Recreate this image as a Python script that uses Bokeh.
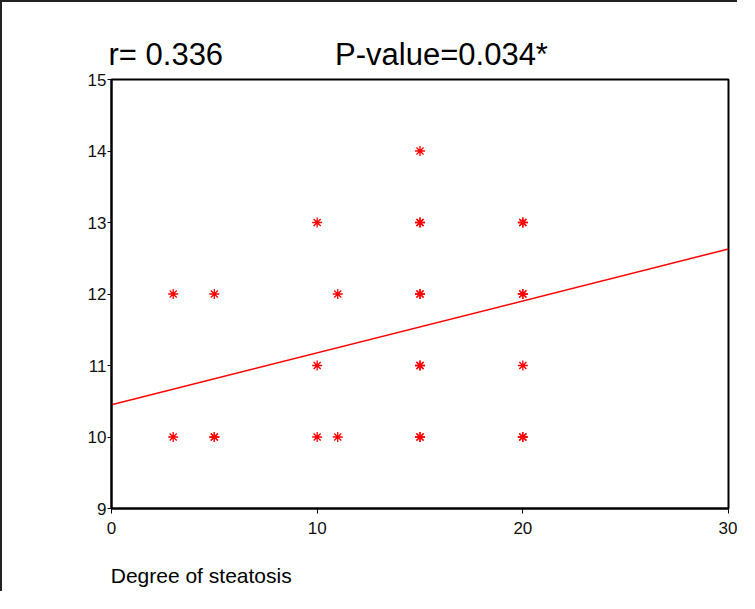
from bokeh.plotting import figure
from bokeh.models import FixedTicker, Range1d, Title
from bokeh.embed import file_html
from bokeh.resources import INLINE

# Data (duplicated points appear bolder)
steatosis = [3, 3, 5, 5, 5, 10, 10, 10, 11, 11,
             15, 15, 15, 15, 15, 15, 15, 15, 15,
             20, 20, 20, 20, 20, 20, 20]
values = [12, 10, 12, 10, 10, 13, 11, 10, 12, 10,
          14, 13, 13, 12, 12, 11, 11, 10, 10,
          13, 13, 12, 12, 11, 10, 10]

fit_x = [0, 30]
fit_y = [10.45, 12.63]

x_ticks = [0, 10, 20, 30]
y_ticks = [9, 10, 11, 12, 13, 14, 15]

title_r = "r= 0.336"
title_p = "P-value=0.034*"
x_label = "Degree of steatosis"

FONT = "Liberation Sans"

p = figure(width=737, height=591, output_backend="svg", toolbar_location=None,
           x_range=Range1d(0, 30), y_range=Range1d(9, 15),
           min_border_left=109, min_border_right=11,
           min_border_top=77, min_border_bottom=85)
p.styles = {"border-left": "2px solid #222222", "border-top": "2px solid #222222"}

p.grid.visible = False
p.background_fill_color = "white"
p.border_fill_color = "white"
p.outline_line_color = "black"
p.outline_line_width = 2

for ax in (p.xaxis[0], p.yaxis[0]):
    ax.axis_line_width = 2
    ax.axis_line_color = "black"
    ax.major_tick_line_color = "black"
    ax.major_tick_line_width = 1
    ax.major_tick_in = 0
    ax.minor_tick_line_color = None
    ax.major_label_text_font = FONT
    ax.major_label_text_font_size = "17px"
    ax.major_label_text_color = "#111111"

p.xaxis[0].ticker = FixedTicker(ticks=x_ticks)
p.yaxis[0].ticker = FixedTicker(ticks=y_ticks)
p.xaxis[0].major_tick_out = 5
p.yaxis[0].major_tick_out = 4
p.xaxis[0].major_label_standoff = 8
p.yaxis[0].major_label_standoff = 1

p.line(fit_x, fit_y, line_color="red", line_width=1.5)
p.scatter(steatosis, values, marker="asterisk", size=10, line_color="red",
          line_width=1.3)

gap = "\u00a0" * 13
p.add_layout(Title(text=title_r + gap + title_p, align="left", offset=-3,
                   text_font=FONT, text_font_size="31px",
                   text_font_style="normal", text_color="black",
                   standoff=15), "above")

# Centered axis label, padded on the right so the visible words sit at the left
xa = p.xaxis[0]
xa.axis_label = x_label + "\u00a0" * 75
xa.axis_label_standoff = 27
xa.axis_label_text_font = FONT
xa.axis_label_text_font_size = "21px"
xa.axis_label_text_font_style = "normal"
xa.axis_label_text_color = "black"

open("out.html", "w").write(file_html(p, INLINE))
